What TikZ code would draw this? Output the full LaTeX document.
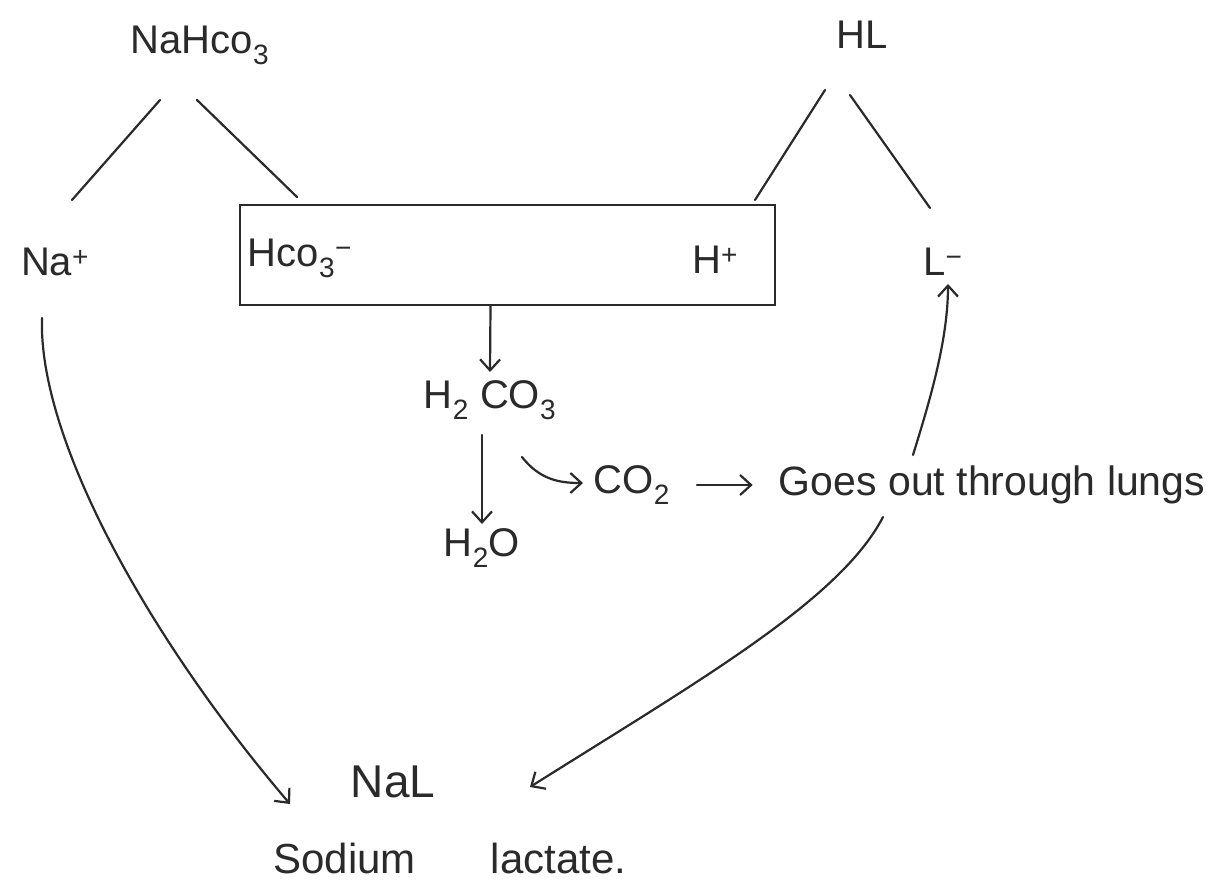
\documentclass[tikz,border=0pt]{standalone}
\usepackage{fontspec}
\setmainfont{Liberation Sans}
\usetikzlibrary{arrows.meta,calc}
\definecolor{ink}{HTML}{2A2A2A}
\begin{document}
\begin{tikzpicture}[x=1pt,y=-1pt,
  ink line/.style={draw=ink,line width=2.2pt,line cap=round},
  barb/.style={ink line,-{Straight Barb[length=11pt,width=20pt,line width=2.2pt]}},
  lbl/.style={text=ink,inner sep=0pt,font=\fontsize{40}{46}\selectfont},
  bigl/.style={text=ink,inner sep=0pt,font=\fontsize{46}{52}\selectfont}]
\useasboundingbox[fill=white] (0,0) rectangle (1213,881);

% nodes
\node[lbl] (nahco3) at (200,45) {NaHco\textsubscript{3}};
\node[lbl] (hl) at (862,35) {HL};
\node[lbl] (na) at (55,262) {Na\textsuperscript{+}};
\node[ink line,minimum width=535pt,minimum height=100pt,inner sep=0pt] (box) at (507.5,255) {};
\node[lbl] (hco3) at (300,258) {Hco\textsubscript{3}\textsuperscript{−}};
\node[lbl] (hp) at (715,260) {H\textsuperscript{+}};
\node[lbl] (lm) at (943,262) {L\textsuperscript{−}};
\node[lbl] (h2co3) at (490,400) {H\textsubscript{2} CO\textsubscript{3}};
\node[lbl] (h2o) at (482,548) {H\textsubscript{2}O};
\node[lbl] (co2) at (632,485) {CO\textsubscript{2}};
\node[lbl,font=\fontsize{41}{47}\selectfont] (goes) at (992,485) {Goes out through lungs};
\node[bigl] (nal) at (393,782) {NaL};
\node[lbl,font=\fontsize{42}{48}\selectfont] (sod) at (450,858) {Sodium\hspace{75pt}lactate.};

% dissociation lines
\draw[ink line] ($(nahco3)+(-40,55)$) -- ($(na)+(17,-62)$);
\draw[ink line] ($(nahco3)+(-3,55)$) -- ($(hco3)+(-3,-61)$);
\draw[ink line] ($(hl)+(-37,55)$) -- ($(hp)+(40,-60)$);
\draw[ink line] ($(hl)+(-12,60)$) -- ($(lm)+(-13,-54)$);

% reaction arrows
\draw[barb] ($(box.south)+(-17,0)$) -- ($(h2co3)+(0,-28)$);
\draw[barb] ($(h2co3)+(-8,35)$) -- ($(h2o)+(0,-24)$);
\draw[barb] ($(h2co3)+(32,57)$) .. controls (540,480) and (560,483) .. ($(co2)+(-49,-2)$);
\draw[barb] ($(co2)+(65,0)$) -- ($(goes.west)+(-26,0)$);

% L- and Na+ paths
\draw[barb] ($(goes)+(-79,-30)$) .. controls (930,400) and (948,340) .. ($(lm)+(5,22)$);
\draw[barb] ($(goes)+(-109,32)$) .. controls (840,600) and (700,680) .. ($(nal)+(137,5)$);
\draw[barb] ($(na)+(-13,56)$) .. controls (38,440) and (150,640) .. ($(nal)+(-103,22)$);
\end{tikzpicture}
\end{document}
